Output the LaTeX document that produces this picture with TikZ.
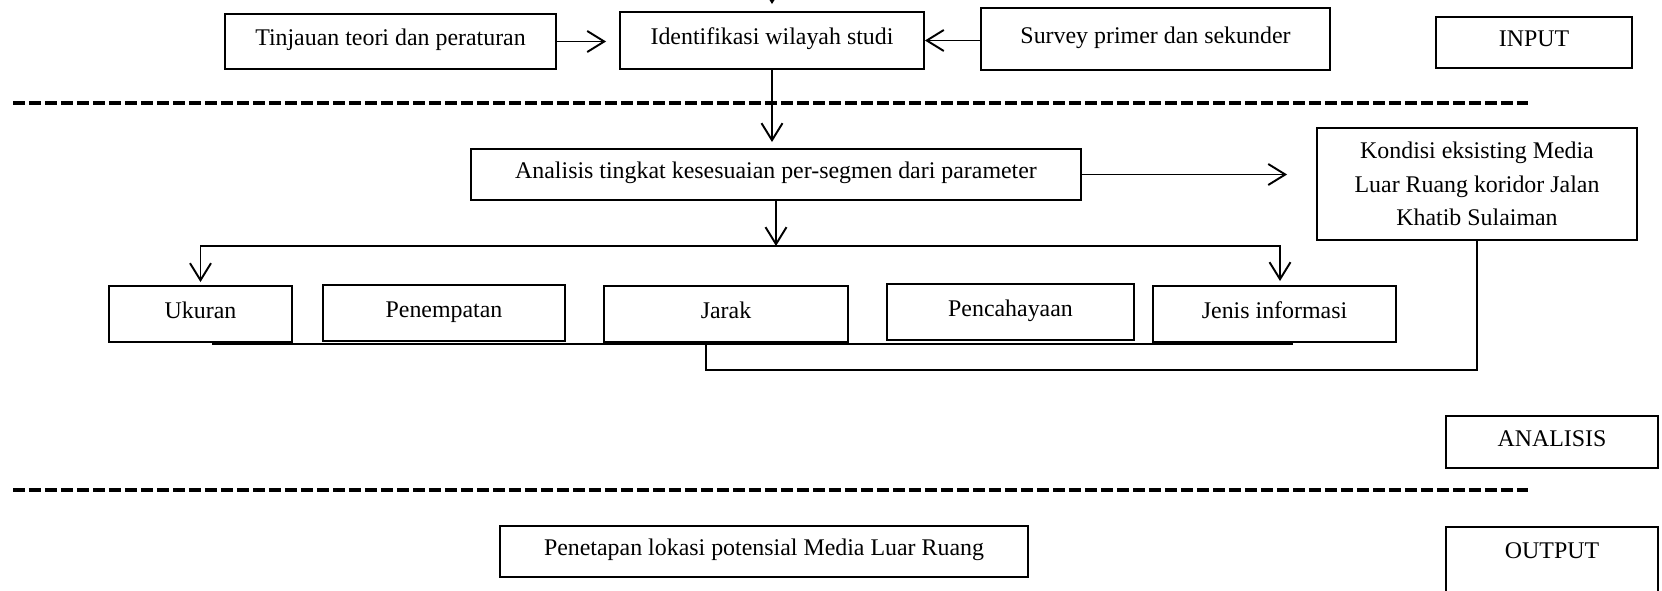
\documentclass[tikz,border=0pt]{standalone}
\usepackage{fontspec}
\setmainfont{Liberation Serif}
\usetikzlibrary{arrows.meta,calc}

\begin{document}
\begin{tikzpicture}[x=0.02cm, y=-0.02cm, >={Straight Barb[length=3.4mm,width=4.2mm]},
    box/.style={draw, line width=1.1pt, inner sep=0pt, align=center, font=\fontsize{13.6}{19}\selectfont},
    oneline/.style={text height=0.7em, text depth=0.22em},
    link/.style={line width=1.1pt},
    sep/.style={line width=2.3pt, dash pattern=on 0.24cm off 0.08cm}]
    \useasboundingbox (0,0) rectangle (1662,591);

    \node[box, oneline, minimum width=6.62cm, minimum height=1.1cm] (tin) at (390.5,41.5) {Tinjauan teori dan peraturan};
    \node[box, oneline, minimum width=6.08cm, minimum height=1.14cm] (ident) at (772,40.5) {Identifikasi wilayah studi};
    \node[box, oneline, minimum width=6.98cm, minimum height=1.24cm] (surv) at (1155.5,39) {Survey primer dan sekunder};
    \node[box, oneline, minimum width=3.92cm, minimum height=1.02cm] (inp) at (1534,42.5) {INPUT};

    \coordinate (sepA) at (13,103);
    \coordinate (sepB) at (1528,103);
    \draw[sep] (sepA) -- (sepB);

    \node[box, oneline, minimum width=12.2cm, minimum height=1.02cm] (anl) at (776,174.5) {Analisis tingkat kesesuaian per-segmen dari parameter};
    \node[box, minimum width=6.4cm, minimum height=2.24cm] (kond) at (1477,184) {Kondisi eksisting Media\\Luar Ruang koridor Jalan\\Khatib Sulaiman};

    \node[box, oneline, minimum width=3.66cm, minimum height=1.12cm] (ukr) at (200.5,314) {Ukuran};
    \node[box, oneline, minimum width=4.84cm, minimum height=1.12cm] (pen) at (444,313) {Penempatan};
    \node[box, oneline, minimum width=4.88cm, minimum height=1.12cm] (jar) at (726,314) {Jarak};
    \node[box, oneline, minimum width=4.94cm, minimum height=1.12cm] (pcy) at (1010.5,312) {Pencahayaan};
    \node[box, oneline, minimum width=4.86cm, minimum height=1.12cm] (jen) at (1274.5,314) {Jenis informasi};

    \node[box, oneline, minimum width=4.24cm, minimum height=1.04cm] (anlz) at (1552,442) {ANALISIS};

    \coordinate (sepC) at (13,490);
    \coordinate (sepD) at (1528,490);
    \draw[sep] (sepC) -- (sepD);

    \node[box, oneline, minimum width=10.56cm, minimum height=1.02cm] (pnt) at (764,551.5) {Penetapan lokasi potensial Media Luar Ruang};
    \node[box, anchor=north, minimum width=4.24cm, text height=0.64cm, text depth=0.96cm] (outp) at (1552,526) {OUTPUT};

    \draw[link, ->] ([yshift=1cm]ident.north) -- ([yshift=0.14cm]ident.north);
    \draw[link, ->, shorten >=0.26cm] (tin.east) -- (tin.east -| ident.west);
    \draw[link, ->] (ident.east -| surv.west) -- (ident.east);
    \draw[link, ->, shorten >=0.12cm] (ident.south) -- (ident.south |- anl.north);
    \draw[link, ->, shorten >=0.58cm] (anl.east) -- (anl.east -| kond.west);

    \coordinate (bus) at (776,246);
    \draw[link, ->] (anl.south) -- (bus);
    \draw[link, ->, shorten >=0.06cm] (bus) -| (ukr.north);
    \draw[link, ->, shorten >=0.08cm] (bus) -| ([xshift=0.11cm]jen.north);

    \draw[link] ([xshift=0.23cm, yshift=-0.02cm]ukr.south) -- ([xshift=0.37cm, yshift=-0.02cm]jen.south);
    \draw[link] ([xshift=-0.4cm]jar.south) -- ++(0,27) -| (kond.south);
\end{tikzpicture}
\end{document}
